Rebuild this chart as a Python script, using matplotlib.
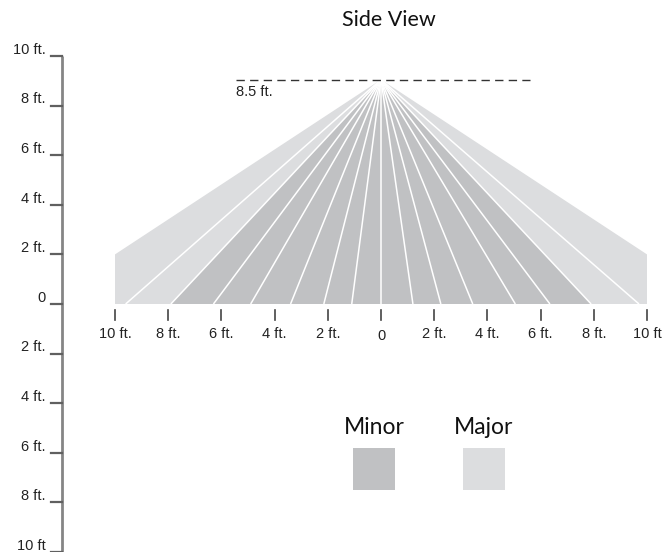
#!/usr/bin/env python3
"""Side view of a sensor coverage fan with a feet scale on the left and bottom."""

import matplotlib

matplotlib.use("Agg")
import matplotlib.pyplot as plt
from matplotlib.patches import Polygon, Rectangle

# --- data (feet) ---
mount_height = 9.05          # where the fan converges (drawn height)
mount_label = "8.5 ft."
major_width = 10.0           # half width of the major zone at the floor
major_edge_height = 2.0      # height of the vertical sides of the major zone
minor_width = 7.9            # half width of the minor zone at the floor
ray_floor_x = [-9.6, -7.9, -6.3, -4.9, -3.4, -2.15, -1.1, 0.0,
               1.2, 2.25, 3.45, 5.05, 6.35, 7.9, 9.7]

x_ticks = [-10, -8, -6, -4, -2, 0, 2, 4, 6, 8, 10]
x_tick_labels = ["10 ft.", "8 ft.", "6 ft.", "4 ft.", "2 ft.", "0",
                 "2 ft.", "4 ft.", "6 ft.", "8 ft.", "10 ft"]
y_ticks = [10, 8, 6, 4, 2, 0, -2, -4, -6, -8, -10]
y_tick_labels = ["10 ft.", "8 ft.", "6 ft.", "4 ft.", "2 ft.", "0",
                 "2 ft.", "4 ft.", "6 ft.", "8 ft.", "10 ft"]
dash_span = (-5.45, 5.6)
legend_labels = ["Minor", "Major"]

MINOR = "#c0c1c3"
MAJOR = "#dcdddf"
TICK_FONT = ["Liberation Sans", "DejaVu Sans"]
TITLE_FONT = ["Lato", "DejaVu Sans"]

W, H = 664, 552
fig = plt.figure(figsize=(W / 100, H / 100), dpi=100)
ax = fig.add_axes([0, 0, 1, 1])
ax.set_xlim(-381 / 26.6, (W - 381) / 26.6)
ax.set_ylim(-10.0, 304 / 24.8)
ax.axis("off")

# fan: major zone then minor zone on top
major = [(-major_width, 0), (-major_width, major_edge_height), (0, mount_height),
         (major_width, major_edge_height), (major_width, 0)]
ax.add_patch(Polygon(major, closed=True, facecolor=MAJOR, edgecolor="none"))
minor = [(-minor_width, 0), (0, mount_height), (minor_width, 0)]
ax.add_patch(Polygon(minor, closed=True, facecolor=MINOR, edgecolor="none"))
for xf in ray_floor_x:
    ax.plot([0, xf], [mount_height, 0], color="white", lw=1.1,
            solid_capstyle="butt")

# mount height marker
ax.plot(dash_span, [mount_height, mount_height], color="#333333", lw=1.0,
        dashes=(6, 3.8))
ax.text(dash_span[0], mount_height - 0.2, mount_label, ha="left", va="top",
        fontsize=10.5, family=TICK_FONT, color="#222222")

# left vertical scale
axis_x = -12.0
ax.plot([axis_x, axis_x], [y_ticks[0], -11], color="#858585", lw=2.0,
        solid_capstyle="butt")
for yv, lab in zip(y_ticks, y_tick_labels):
    ax.plot([axis_x - 0.4, axis_x], [yv, yv], color="#606060", lw=1.6)
    ax.text(axis_x - 0.62, yv + 0.25, lab, ha="right", va="center",
            fontsize=10.5, family=TICK_FONT, color="#222222")

# bottom scale
for xv, lab in zip(x_ticks, x_tick_labels):
    ax.plot([xv, xv], [-0.25, -0.65], color="#444444", lw=1.2)
    ax.text(xv, -1.2 if xv else -1.3, lab, ha="center", va="center",
            fontsize=10.5, family=TICK_FONT, color="#222222")

fig.text(389 / W, 1 - 20 / H, "Side View", ha="center", va="center",
         fontsize=15.5, family=TITLE_FONT, color="#111111")

# legend boxes
for cx, lab, col in zip([374, 484], legend_labels, [MINOR, MAJOR]):
    fig.text(cx / W, 1 - 427 / H, lab, ha="center", va="center",
             fontsize=16.5, family=TITLE_FONT, color="#111111")
    fig.add_artist(Rectangle(((cx - 21) / W, 1 - 490 / H), 42 / W, 42 / H,
                             transform=fig.transFigure, facecolor=col,
                             edgecolor="none"))

fig.savefig("out.png", dpi=100)
